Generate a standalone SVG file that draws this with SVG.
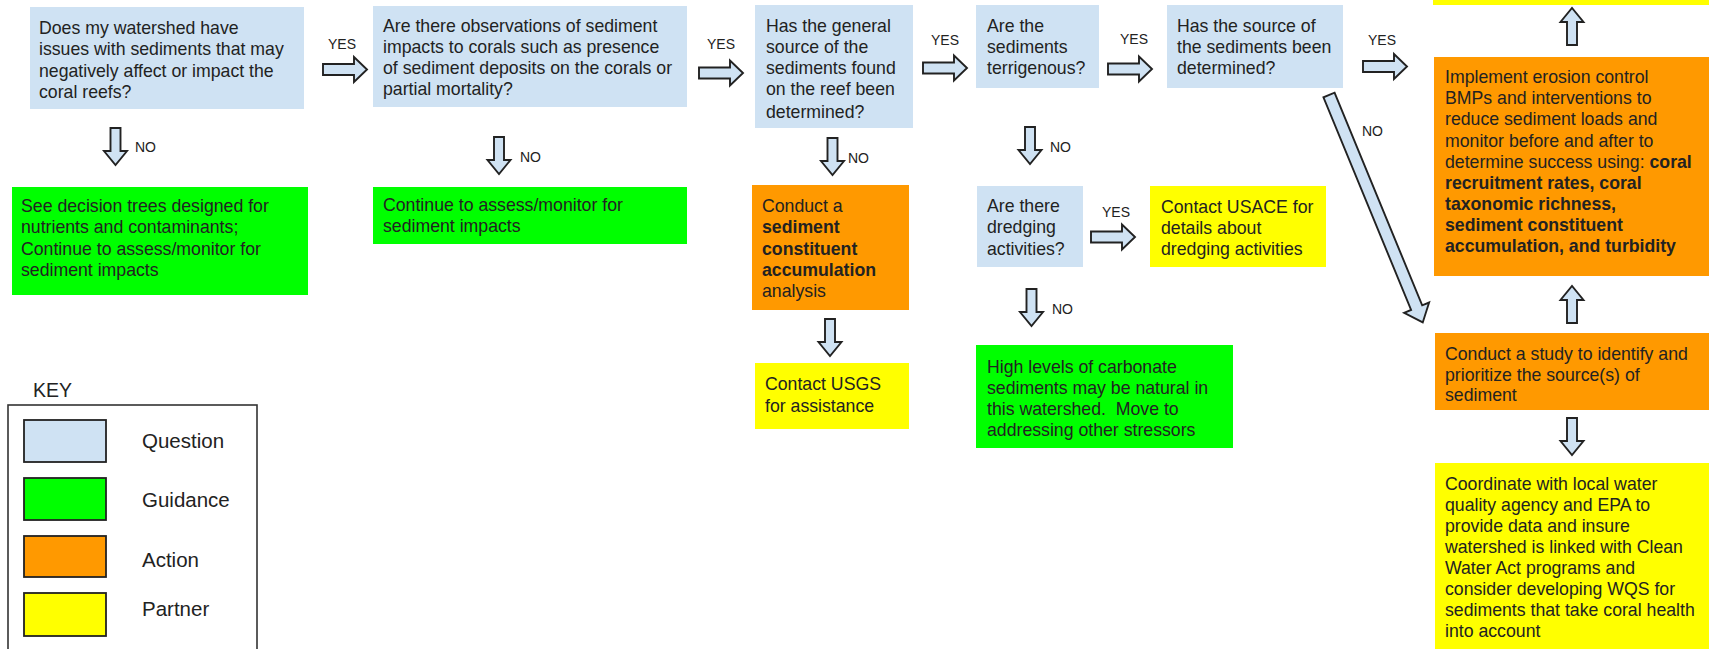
<svg xmlns="http://www.w3.org/2000/svg" width="1709" height="649" viewBox="0 0 1709 649">
  <style>
    .q { fill: #cfe2f3; }
    .g { fill: #00ff00; }
    .a { fill: #ff9900; }
    .p { fill: #ffff00; }
    .t { font-family: "Liberation Sans", Arial, sans-serif; font-size: 17.7px; fill: #222; }
    .bd { font-weight: bold; }
    .lbl { font-family: "Liberation Sans", Arial, sans-serif; font-size: 14px; fill: #222; }
    .keyt { font-family: "Liberation Sans", Arial, sans-serif; font-size: 20.5px; fill: #222; }
    .arrow { fill: #cfe2f3; stroke: #222; stroke-width: 1.9; stroke-linejoin: miter; }
    .sw { stroke: #222; stroke-width: 1.8; }
  </style>
  <defs>
    <!-- block arrow pointing right, origin at tail centre -->
    <path id="arrR" class="arrow" d="M0,-5.5 H31 V-12.5 L44,0 L31,12.5 V5.5 H0 Z"/>
    <!-- block arrow pointing down, origin at tail centre -->
    <path id="arrD" class="arrow" d="M-5,0 V23 H-11.5 L0,37 L11.5,23 H5 V0 Z"/>
  </defs>

  <rect width="1709" height="649" fill="#ffffff"/>

  <!-- connectors -->
  <g id="connectors">
    <use href="#arrR" transform="translate(323,69.5)"/>
    <text class="lbl" x="328" y="49">YES</text>
    <use href="#arrR" transform="translate(699,73)"/>
    <text class="lbl" x="707" y="49">YES</text>
    <use href="#arrR" transform="translate(923,68)"/>
    <text class="lbl" x="931" y="45">YES</text>
    <use href="#arrR" transform="translate(1108,69)"/>
    <text class="lbl" x="1120" y="44">YES</text>
    <use href="#arrR" transform="translate(1363,66.5)"/>
    <text class="lbl" x="1368" y="45">YES</text>
    <use href="#arrR" transform="translate(1091,237)"/>
    <text class="lbl" x="1102" y="217">YES</text>

    <use href="#arrD" transform="translate(115.5,128)"/>
    <text class="lbl" x="135" y="152">NO</text>
    <use href="#arrD" transform="translate(499,137)"/>
    <text class="lbl" x="520" y="162">NO</text>
    <use href="#arrD" transform="translate(832.5,138)"/>
    <text class="lbl" x="848" y="163">NO</text>
    <use href="#arrD" transform="translate(1030,127)"/>
    <text class="lbl" x="1050" y="152">NO</text>
    <use href="#arrD" transform="translate(830,319)"/>
    <use href="#arrD" transform="translate(1031.5,289)"/>
    <text class="lbl" x="1052" y="314">NO</text>
    <use href="#arrD" transform="translate(1572,418)"/>

    <use href="#arrD" transform="translate(1572,45) rotate(180)"/>
    <use href="#arrD" transform="translate(1572,323) rotate(180)"/>

    <!-- long diagonal NO branch -->
    <path class="arrow" transform="translate(1329,95) rotate(67.6)" d="M0,-6 H230 V-13.5 L246,0 L230,13.5 V6 H0 Z"/>
    <text class="lbl" x="1362" y="136">NO</text>
  </g>

  <!-- questions -->
  <g id="q-watershed">
    <rect class="q" x="30" y="7" width="274" height="102"/>
    <text class="t" x="39" y="33.5">Does my watershed have</text>
    <text class="t" x="39" y="55">issues with sediments that may</text>
    <text class="t" x="39" y="76.5">negatively affect or impact the</text>
    <text class="t" x="39" y="98">coral reefs?</text>
  </g>
  <g id="q-observations">
    <rect class="q" x="373" y="6" width="314" height="101"/>
    <text class="t" x="383" y="32.3">Are there observations of sediment</text>
    <text class="t" x="383" y="53.3">impacts to corals such as presence</text>
    <text class="t" x="383" y="74.3">of sediment deposits on the corals or</text>
    <text class="t" x="383" y="95.3">partial mortality?</text>
  </g>
  <g id="q-general-source">
    <rect class="q" x="755" y="5" width="158" height="123"/>
    <text class="t" x="766" y="32">Has the general</text>
    <text class="t" x="766" y="53">source of the</text>
    <text class="t" x="766" y="74">sediments found</text>
    <text class="t" x="766" y="95">on the reef been</text>
    <text class="t" x="766" y="117.5">determined?</text>
  </g>
  <g id="q-terrigenous">
    <rect class="q" x="976" y="5" width="123" height="83"/>
    <text class="t" x="987" y="32">Are the</text>
    <text class="t" x="987" y="53">sediments</text>
    <text class="t" x="987" y="74">terrigenous?</text>
  </g>
  <g id="q-source">
    <rect class="q" x="1167" y="5" width="176" height="83"/>
    <text class="t" x="1177" y="32">Has the source of</text>
    <text class="t" x="1177" y="53">the sediments been</text>
    <text class="t" x="1177" y="74">determined?</text>
  </g>
  <g id="q-dredging">
    <rect class="q" x="977" y="186" width="106" height="81"/>
    <text class="t" x="987" y="212">Are there</text>
    <text class="t" x="987" y="233">dredging</text>
    <text class="t" x="987" y="255">activities?</text>
  </g>

  <!-- guidance -->
  <g id="g-other-trees">
    <rect class="g" x="12" y="187" width="296" height="108"/>
    <text class="t" x="21" y="212">See decision trees designed for</text>
    <text class="t" x="21" y="233">nutrients and contaminants;</text>
    <text class="t" x="21" y="254.5">Continue to assess/monitor for</text>
    <text class="t" x="21" y="276">sediment impacts</text>
  </g>
  <g id="g-continue">
    <rect class="g" x="373" y="187" width="314" height="57"/>
    <text class="t" x="383" y="211">Continue to assess/monitor for</text>
    <text class="t" x="383" y="232">sediment impacts</text>
  </g>
  <g id="g-carbonate">
    <rect class="g" x="976" y="345" width="257" height="103"/>
    <text class="t" x="987" y="373">High levels of carbonate</text>
    <text class="t" x="987" y="394">sediments may be natural in</text>
    <text class="t" x="987" y="415">this watershed.&#160; Move to</text>
    <text class="t" x="987" y="436">addressing other stressors</text>
  </g>

  <!-- actions -->
  <g id="a-accumulation">
    <rect class="a" x="752" y="185" width="157" height="125"/>
    <text class="t" x="762" y="212">Conduct a</text>
    <text class="t bd" x="762" y="233">sediment</text>
    <text class="t bd" x="762" y="255">constituent</text>
    <text class="t bd" x="762" y="276">accumulation</text>
    <text class="t" x="762" y="297">analysis</text>
  </g>
  <g id="a-erosion-control">
    <rect class="a" x="1434" y="57" width="275" height="219"/>
    <text class="t" x="1445" y="83">Implement erosion control</text>
    <text class="t" x="1445" y="104">BMPs and interventions to</text>
    <text class="t" x="1445" y="125">reduce sediment loads and</text>
    <text class="t" x="1445" y="147">monitor before and after to</text>
    <text class="t" x="1445" y="168">determine success using: <tspan class="bd">coral</tspan></text>
    <text class="t bd" x="1445" y="189">recruitment rates, coral</text>
    <text class="t bd" x="1445" y="210">taxonomic richness,</text>
    <text class="t bd" x="1445" y="231">sediment constituent</text>
    <text class="t bd" x="1445" y="252">accumulation, and turbidity</text>
  </g>
  <g id="a-source-study">
    <rect class="a" x="1435" y="333" width="274" height="77"/>
    <text class="t" x="1445" y="360">Conduct a study to identify and</text>
    <text class="t" x="1445" y="381">prioritize the source(s) of</text>
    <text class="t" x="1445" y="401">sediment</text>
  </g>

  <!-- partners -->
  <g id="p-top">
    <rect class="p" x="1433" y="0" width="276" height="5"/>
  </g>
  <g id="p-usgs">
    <rect class="p" x="755" y="363" width="154" height="66"/>
    <text class="t" x="765" y="390">Contact USGS</text>
    <text class="t" x="765" y="412">for assistance</text>
  </g>
  <g id="p-usace">
    <rect class="p" x="1150" y="186" width="176" height="81"/>
    <text class="t" x="1161" y="213">Contact USACE for</text>
    <text class="t" x="1161" y="234">details about</text>
    <text class="t" x="1161" y="255">dredging activities</text>
  </g>
  <g id="p-clean-water">
    <rect class="p" x="1435" y="463" width="274" height="186"/>
    <text class="t" x="1445" y="490">Coordinate with local water</text>
    <text class="t" x="1445" y="511">quality agency and EPA to</text>
    <text class="t" x="1445" y="532">provide data and insure</text>
    <text class="t" x="1445" y="553">watershed is linked with Clean</text>
    <text class="t" x="1445" y="574">Water Act programs and</text>
    <text class="t" x="1445" y="595">consider developing WQS for</text>
    <text class="t" x="1445" y="616">sediments that take coral health</text>
    <text class="t" x="1445" y="637">into account</text>
  </g>

  <!-- legend -->
  <g id="key">
    <text class="keyt" x="33" y="397" style="font-size:19.5px">KEY</text>
    <rect x="8" y="405" width="249" height="260" fill="#ffffff" stroke="#333" stroke-width="1.6"/>
    <rect class="q sw" x="24" y="420" width="82" height="42"/>
    <text class="keyt" x="142" y="448">Question</text>
    <rect class="g sw" x="24" y="478" width="82" height="42"/>
    <text class="keyt" x="142" y="507">Guidance</text>
    <rect class="a sw" x="24" y="536" width="82" height="41"/>
    <text class="keyt" x="142" y="567">Action</text>
    <rect class="p sw" x="24" y="593" width="82" height="43"/>
    <text class="keyt" x="142" y="616">Partner</text>
  </g>
</svg>
